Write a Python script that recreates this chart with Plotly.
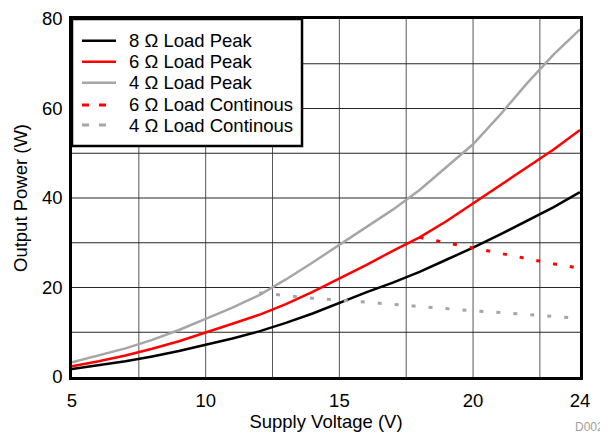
import plotly.graph_objects as go

v_peak = list(range(5, 25))
p8_peak = [1.8, 2.6, 3.5, 4.6, 5.8, 7.2, 8.6, 10.2, 12.1, 14.2, 16.6, 18.9, 21.1, 23.5, 26.2, 28.9, 31.8, 34.8, 37.9, 41.3]
p6_peak = [2.4, 3.5, 4.8, 6.3, 8.0, 9.9, 11.9, 13.9, 16.3, 19.0, 22.0, 25.0, 28.2, 31.2, 34.8, 38.8, 42.8, 46.8, 50.8, 55.2]
p4_peak = [3.3, 4.8, 6.4, 8.3, 10.5, 13.0, 15.5, 18.3, 21.8, 25.6, 29.6, 33.5, 37.4, 41.8, 46.8, 52.0, 58.5, 65.5, 72.0, 77.7]

v6_cont = [18, 19, 20, 21, 22, 23, 24]
p6_cont = [31.2, 30.0, 28.9, 27.7, 26.5, 25.3, 24.3]
v4_cont = [12, 13, 14, 15, 16, 17, 18, 19, 20, 21, 22, 23, 24]
p4_cont = [18.8, 18.2, 17.6, 17.2, 16.7, 16.3, 15.8, 15.3, 14.8, 14.4, 14.0, 13.5, 13.1]

series_names = ["8 Ω Load Peak", "6 Ω Load Peak", "4 Ω Load Peak",
                "6 Ω Load Continous", "4 Ω Load Continous"]
series_colors = ["black", "#ff0000", "#a6a6a6", "#ff0000", "#a6a6a6"]
series_dashed = [False, False, False, True, True]

x_ticks = [5, 10, 15, 20, 24]
y_ticks = [0, 20, 40, 60, 80]

font = "Liberation Sans, Arial, sans-serif"
fs = 18.5
dash = "4px,13px"

fig = go.Figure()
data = [(v_peak, p8_peak), (v_peak, p6_peak), (v_peak, p4_peak),
        (v6_cont, p6_cont), (v4_cont, p4_cont)]
for (xs, ys), name, col, dsh in zip(data, series_names, series_colors, series_dashed):
    fig.add_trace(go.Scatter(x=xs, y=ys, mode="lines", name=name, showlegend=False,
                             line=dict(color=col, width=3 if dsh else 2.5,
                                       dash=dash if dsh else "solid")))

# page body has an 8px margin, so the figure is 600x425 placed at (8, 8)
fig.update_layout(
    width=600, height=425,
    margin=dict(l=64, r=28, t=11, b=56, autoexpand=False),
    paper_bgcolor="white", plot_bgcolor="white",
    font=dict(family=font, size=fs, color="black"),
    showlegend=False,
    xaxis=dict(range=[5, 24], tickvals=x_ticks, ticktext=[str(t) for t in x_ticks],
               showgrid=False, zeroline=False, showline=True, linecolor="black",
               linewidth=2.5, mirror=True, ticks="", tickfont=dict(size=fs),
               ticklabelstandoff=5, automargin=False,
               title=dict(text="Supply Voltage (V)", font=dict(size=fs), standoff=3)),
    yaxis=dict(range=[0, 80], tickvals=y_ticks, showgrid=False, zeroline=False,
               showline=True, linecolor="black", linewidth=2.5, mirror=True, ticks="",
               tickfont=dict(size=fs), ticklabelstandoff=3, automargin=False,
               title=dict(text="Output Power (W)", font=dict(size=fs), standoff=10)),
)

# grid lines every 2.5 V and 10 W
for gx in [7.5, 10, 12.5, 15, 17.5, 20, 22.5]:
    fig.add_shape(type="line", x0=gx, x1=gx, y0=0, y1=80, xref="x", yref="y",
                  line=dict(color="#555555", width=1), layer="below")
for gy in [10, 20, 30, 40, 50, 60, 70]:
    fig.add_shape(type="line", x0=5, x1=24, y0=gy, y1=gy, xref="x", yref="y",
                  line=dict(color="#262626", width=1), layer="below")

# legend box (drawn manually so its row spacing matches)
fig.add_shape(type="rect", xref="paper", yref="paper", x0=0, x1=0.4528, y0=0.6453, y1=1,
              fillcolor="white", line=dict(color="black", width=2.5), layer="above")
row_y = [0.9394, 0.8807, 0.8221, 0.7598, 0.7039]
for ry, name, col, dsh in zip(row_y, series_names, series_colors, series_dashed):
    fig.add_shape(type="line", xref="paper", yref="paper", x0=0.0197,
                  x1=0.0669 if dsh else 0.0866, y0=ry, y1=ry, layer="above",
                  line=dict(color=col, width=3 if dsh else 2.5,
                            dash="7px,10px" if dsh else "solid"))
    fig.add_annotation(text=name, xref="paper", yref="paper", x=0.1083, y=ry,
                       xanchor="left", yanchor="middle", showarrow=False,
                       font=dict(size=fs, color="black"))

fig.add_annotation(text="D002", xref="paper", yref="paper", x=1.0, y=0, xanchor="left",
                   yanchor="middle", yshift=-50, xshift=-7, showarrow=False,
                   font=dict(size=12, color="#a0a0a0"))

fig.write_html("out.html")
